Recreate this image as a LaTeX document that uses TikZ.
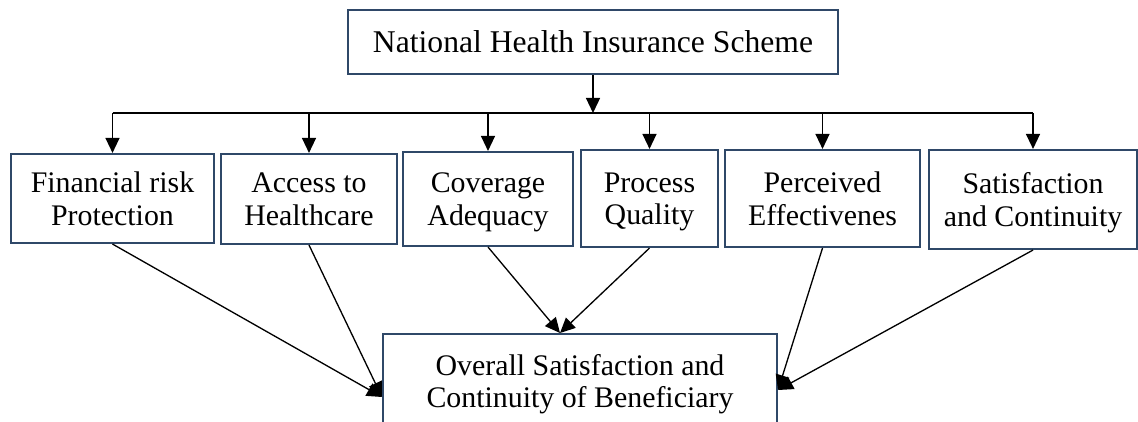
\documentclass[tikz,border=0pt]{standalone}
\usepackage{fontspec}
\setmainfont{Liberation Serif}
\usetikzlibrary{arrows.meta}
\definecolor{borde}{RGB}{47,72,104}

\begin{document}
\begin{tikzpicture}[
    caja/.style={draw=borde, line width=1.2pt, align=center, inner sep=0pt, text depth=0pt, font=\fontsize{17}{18.5}\selectfont},
    flecha/.style={-{Triangle[length=0.3cm, width=0.28cm]}, line width=0.75pt}
  ]
    \useasboundingbox (0,0) rectangle (22.76,8.44);
    \clip (0,0) rectangle (22.76,8.44);

    % Esquema
    \node[caja, font=\fontsize{18}{19.5}\selectfont, minimum width=9.8cm, minimum height=1.28cm] (nhis) at (11.86, 7.6) {National Health Insurance Scheme};

    % Factores
    \node[caja, minimum width=4.06cm, minimum height=1.78cm] (frp) at (2.25, 4.47) {Financial risk\\Protection};
    \node[caja, minimum width=3.52cm, minimum height=1.8cm] (ath) at (6.18, 4.46) {Access to\\Healthcare};
    \node[caja, minimum width=3.4cm, minimum height=1.88cm] (cad) at (9.76, 4.46) {Coverage\\Adequacy};
    \node[caja, minimum width=2.74cm, minimum height=1.94cm] (pqu) at (12.99, 4.47) {Process\\Quality};
    \node[caja, minimum width=3.9cm, minimum height=1.94cm] (pef) at (16.45, 4.47) {Perceived\\Effectivenes};
    \node[caja, minimum width=4.16cm, minimum height=1.98cm] (sac) at (20.66, 4.45) {Satisfaction\\and Continuity};

    % Resultado
    \node[caja, anchor=north, minimum width=7.88cm, inner ysep=0.4cm] (osc) at (11.6, 1.78) {Overall Satisfaction and\\Continuity of Beneficiary};

    \coordinate (bus) at (11.9, 6.18);
    \coordinate (inL) at ([yshift=-1.28cm]osc.north west);
    \coordinate (inT) at ([xshift=-0.4cm]osc.north);
    \coordinate (inR) at ([yshift=-1.14cm]osc.north east);

    \draw[flecha] (nhis.south) -- (nhis.south |- bus);
    \draw[line width=0.75pt] (frp.north |- bus) -- (sac.north |- bus);
    \foreach \f in {frp, ath, cad, pqu, pef, sac}
        \draw[flecha] (\f.north |- bus) -- (\f.north);

    \draw[flecha] (frp.south) -- (inL);
    \draw[flecha] (ath.south) -- (inL);
    \draw[flecha] (cad.south) -- (inT);
    \draw[flecha] (pqu.south) -- (inT);
    \draw[flecha] (pef.south) -- (inR);
    \draw[flecha] (sac.south) -- (inR);
\end{tikzpicture}
\end{document}
